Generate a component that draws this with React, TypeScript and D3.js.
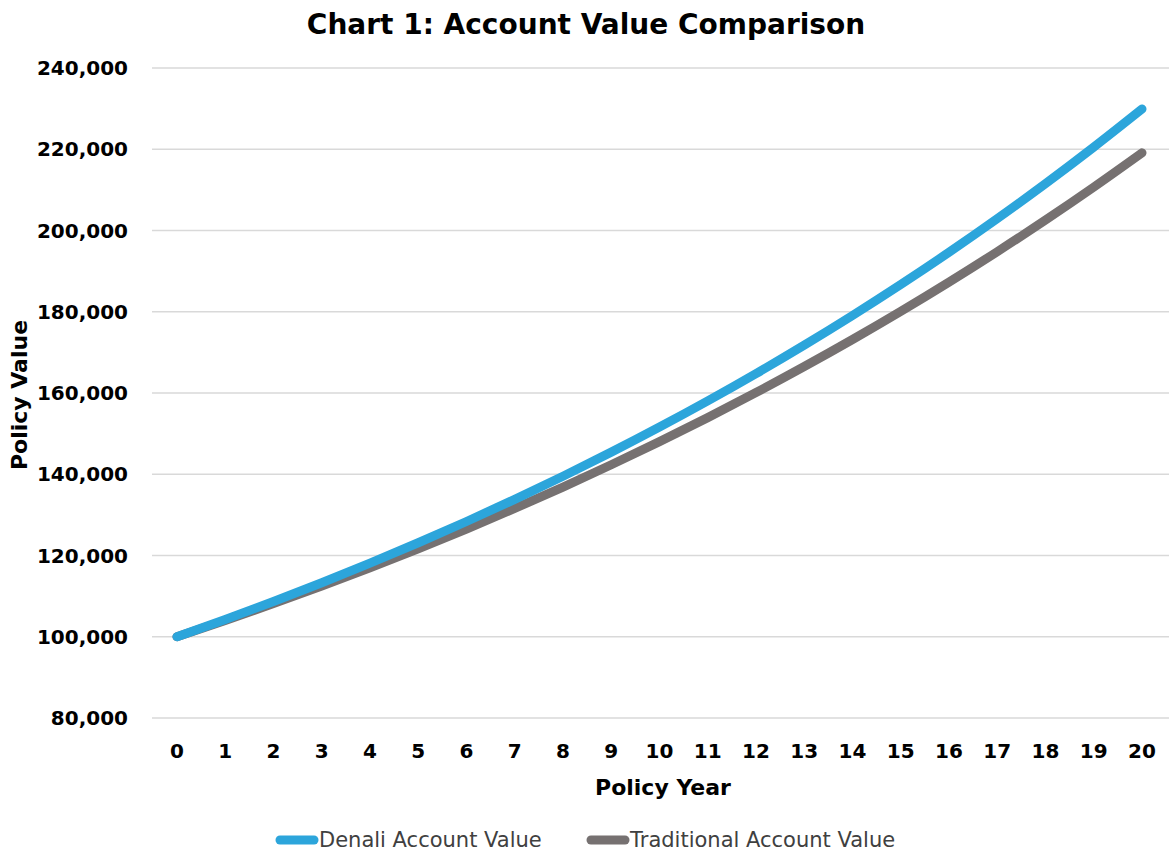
import React, { useRef, useEffect } from 'react';
import * as d3 from 'd3';

// policy years 0..20
const years = [0, 1, 2, 3, 4, 5, 6, 7, 8, 9, 10, 11, 12, 13, 14, 15, 16, 17, 18, 19, 20];

const denaliValues = [
  100000, 104250, 108681, 113300, 118115, 123135, 128368, 133823, 139511, 145440,
  151621, 158065, 164783, 171786, 179087, 186698, 194633, 202905, 211529, 220519, 229891,
];

const traditionalValues = [
  100000, 104000, 108160, 112486, 116986, 121665, 126532, 131593, 136857, 142331,
  148024, 153945, 160103, 166507, 173168, 180094, 187298, 194790, 202582, 210685, 219112,
];

const yTicks = [80000, 100000, 120000, 140000, 160000, 180000, 200000, 220000, 240000];

const seriesNames = ['Denali Account Value', 'Traditional Account Value'];
const seriesColors = ['#2CA5DB', '#767171'];

const FONT = '"DejaVu Sans", sans-serif';

const App = () => {
  const svgRef = useRef<SVGSVGElement>(null);

  useEffect(() => {
    const svg = d3.select(svgRef.current);
    svg.selectAll('*').remove();

    const width = 1169;
    const height = 851;

    const plotLeft = 152;
    const plotRight = 1169;
    const plotTop = 68;
    const plotBottom = 718;

    const xScale = d3.scalePoint<number>()
      .domain(years)
      .range([177, 1142]);

    const yScale = d3.scaleLinear()
      .domain([80000, 240000])
      .range([plotBottom, plotTop]);

    svg.append('rect')
      .attr('width', width)
      .attr('height', height)
      .attr('fill', '#ffffff');

    // title
    svg.append('text')
      .attr('x', 586)
      .attr('y', 34)
      .attr('text-anchor', 'middle')
      .attr('font-family', FONT)
      .attr('font-weight', 'bold')
      .attr('font-size', 28)
      .attr('fill', '#000')
      .text('Chart 1: Account Value Comparison');

    // gridlines
    svg.append('g')
      .selectAll('line')
      .data(yTicks)
      .enter().append('line')
      .attr('x1', plotLeft)
      .attr('x2', plotRight)
      .attr('y1', d => yScale(d))
      .attr('y2', d => yScale(d))
      .attr('stroke', '#d9d9d9')
      .attr('stroke-width', 1.5);

    // y axis labels
    svg.append('g')
      .selectAll('text')
      .data(yTicks)
      .enter().append('text')
      .attr('x', 128)
      .attr('y', d => yScale(d))
      .attr('dy', '0.35em')
      .attr('text-anchor', 'end')
      .attr('font-family', FONT)
      .attr('font-weight', 'bold')
      .attr('font-size', 20)
      .attr('fill', '#000')
      .text(d => d3.format(',')(d));

    // x axis labels
    svg.append('g')
      .selectAll('text')
      .data(years)
      .enter().append('text')
      .attr('x', d => xScale(d)!)
      .attr('y', 751)
      .attr('dy', '0.35em')
      .attr('text-anchor', 'middle')
      .attr('font-family', FONT)
      .attr('font-weight', 'bold')
      .attr('font-size', 20)
      .attr('fill', '#000')
      .text(d => String(d));

    // axis titles
    svg.append('text')
      .attr('x', 663)
      .attr('y', 795)
      .attr('text-anchor', 'middle')
      .attr('font-family', FONT)
      .attr('font-weight', 'bold')
      .attr('font-size', 22)
      .attr('fill', '#000')
      .text('Policy Year');

    svg.append('text')
      .attr('transform', 'translate(27,395) rotate(-90)')
      .attr('text-anchor', 'middle')
      .attr('font-family', FONT)
      .attr('font-weight', 'bold')
      .attr('font-size', 22)
      .attr('fill', '#000')
      .text('Policy Value');

    // lines
    const line = d3.line<number>()
      .x((_, i) => xScale(years[i])!)
      .y(d => yScale(d))
      .curve(d3.curveMonotoneX);

    [traditionalValues, denaliValues].forEach((vals, k) => {
      const idx = k === 0 ? 1 : 0;
      svg.append('path')
        .datum(vals)
        .attr('d', line)
        .attr('fill', 'none')
        .attr('stroke', seriesColors[idx])
        .attr('stroke-width', 9)
        .attr('stroke-linecap', 'round')
        .attr('stroke-linejoin', 'round');
    });

    // legend
    const legendItems = [
      { x: 276, name: seriesNames[0], color: seriesColors[0] },
      { x: 587, name: seriesNames[1], color: seriesColors[1] },
    ];
    const lg = svg.append('g');
    legendItems.forEach(item => {
      lg.append('line')
        .attr('x1', item.x + 4)
        .attr('x2', item.x + 38)
        .attr('y1', 840)
        .attr('y2', 840)
        .attr('stroke', item.color)
        .attr('stroke-width', 9)
        .attr('stroke-linecap', 'round');
      lg.append('text')
        .attr('x', item.x + 43)
        .attr('y', 840)
        .attr('dy', '0.35em')
        .attr('font-family', FONT)
        .attr('font-size', 21)
        .attr('fill', '#404040')
        .text(item.name);
    });
  }, []);

  return (
    <svg
      ref={svgRef}
      width={1169}
      height={851}
      style={{ position: 'fixed', left: 0, top: 0, display: 'block' }}
    ></svg>
  );
};

export default App;
